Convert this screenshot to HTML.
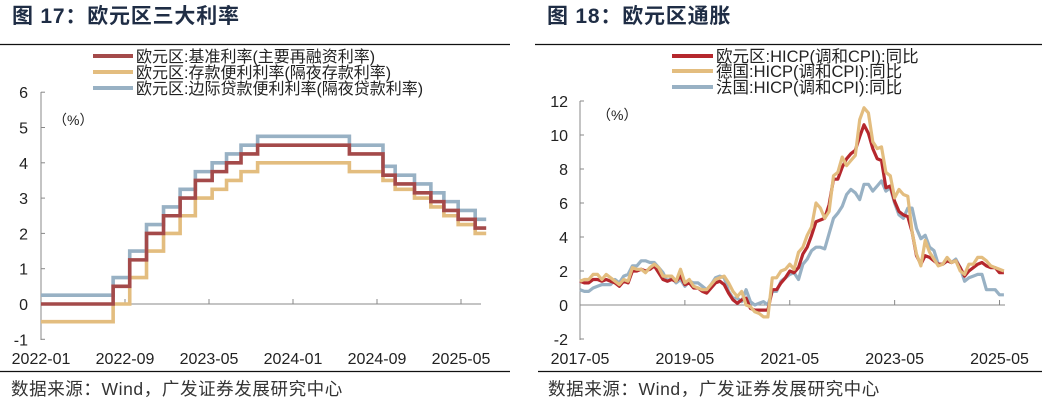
<!DOCTYPE html>
<html><head><meta charset="utf-8">
<style>
html,body{margin:0;padding:0;background:#fff;width:1042px;height:403px;overflow:hidden;}
svg{display:block;font-family:"Liberation Sans","Noto Sans CJK SC",sans-serif;}
</style></head>
<body>
<svg id="s" width="1042" height="403" viewBox="0 0 1042 403" xmlns="http://www.w3.org/2000/svg">
<rect width="1042" height="403" fill="#fff"/>
<text x="12" y="23" font-size="21" font-weight="bold" fill="#1f2d45" letter-spacing="0.8">图 17：欧元区三大利率</text>
<text x="547" y="23" font-size="21" font-weight="bold" fill="#1f2d45" letter-spacing="0.8">图 18：欧元区通胀</text>
<line x1="0" y1="44.5" x2="510" y2="44.5" stroke="#111" stroke-width="1.3"/>
<line x1="535" y1="44.5" x2="1042" y2="44.5" stroke="#111" stroke-width="1.3"/>
<line x1="0" y1="371.5" x2="510" y2="371.5" stroke="#111" stroke-width="1.3"/>
<line x1="538" y1="371.5" x2="1042" y2="371.5" stroke="#111" stroke-width="1.3"/>
<text x="11" y="395" font-size="17.5" fill="#333" letter-spacing="0.6">数据来源：Wind，广发证券发展研究中心</text>
<text x="548" y="395" font-size="17.5" fill="#333" letter-spacing="0.6">数据来源：Wind，广发证券发展研究中心</text>

<g font-size="16" fill="#222">
<line x1="93" y1="56" x2="133" y2="56" stroke="#a44a4a" stroke-width="4"/>
<text x="136" y="62">欧元区:基准利率(主要再融资利率)</text>
<line x1="93" y1="72" x2="133" y2="72" stroke="#e3bd7f" stroke-width="4"/>
<text x="136" y="78">欧元区:存款便利利率(隔夜存款利率)</text>
<line x1="93" y1="88" x2="133" y2="88" stroke="#98b1c4" stroke-width="4"/>
<text x="136" y="94">欧元区:边际贷款便利利率(隔夜贷款利率)</text>
</g>
<g font-size="16.5" fill="#222">
<line x1="672" y1="56" x2="713" y2="56" stroke="#b5272d" stroke-width="4"/>
<text x="716" y="62">欧元区:HICP(调和CPI):同比</text>
<line x1="672" y1="71" x2="713" y2="71" stroke="#e3bd7f" stroke-width="4"/>
<text x="716" y="77">德国:HICP(调和CPI):同比</text>
<line x1="672" y1="87" x2="713" y2="87" stroke="#98b1c4" stroke-width="4"/>
<text x="716" y="93">法国:HICP(调和CPI):同比</text>
</g>
<text x="53" y="125" font-size="14" fill="#222">（%）</text>
<text x="597" y="120" font-size="14" fill="#222">（%）</text>
<g id="L"></g><g id="R"></g>
</svg>
<script>
var NS="http://www.w3.org/2000/svg";
function el(p,t,a,txt){var e=document.createElementNS(NS,t);for(var k in a)e.setAttribute(k,a[k]);if(txt!==undefined)e.textContent=txt;p.appendChild(e);return e;}
var L=document.getElementById('L'),R=document.getElementById('R');
var y0=304,u=35.3,ax=41;
function ly(v){return y0-v*u;}
function lx(m){return ax+m*10.5;}
el(L,'line',{x1:ax,y1:92,x2:ax,y2:340,stroke:'#888','stroke-width':1});
for(var v=-1;v<=6;v++){el(L,'line',{x1:ax,y1:ly(v),x2:ax+4,y2:ly(v),stroke:'#888'});el(L,'text',{x:28,y:ly(v)+6,'font-size':16,'text-anchor':'end',fill:'#222'},v);}
el(L,'line',{x1:ax,y1:y0,x2:481,y2:y0,stroke:'#888'});
var lt=['2022-01','2022-09','2023-05','2024-01','2024-09','2025-05'];
lt.forEach(function(t,i){var x=lx(i*8);if(i>0)el(L,'line',{x1:x,y1:y0,x2:x,y2:y0-5,stroke:'#888'});el(L,'text',{x:x,y:364,'font-size':16,'text-anchor':'middle',fill:'#222'},t);});
var ch=[[0,0,-0.5,0.25],[6.87,0.5,0,0.75],[8.45,1.25,0.75,1.5],[10.05,2,1.5,2.25],[11.67,2.5,2,2.75],[13.25,3,2.5,3.25],[14.7,3.5,3,3.75],[16.3,3.75,3.25,4],[17.67,4,3.5,4.25],[19.05,4.25,3.75,4.5],[20.63,4.5,4,4.75],[29.37,4.25,3.75,4.5],[32.57,3.65,3.5,3.9],[33.73,3.4,3.25,3.65],[35.57,3.15,3,3.4],[37.13,2.9,2.75,3.15],[38.37,2.65,2.5,2.9],[39.73,2.4,2.25,2.65],[41.35,2.15,2,2.4],[42.4,0,0,0]];
[[3,'#98b1c4'],[2,'#e3bd7f'],[1,'#a44a4a']].forEach(function(s){
 var d='';for(var i=0;i<ch.length-1;i++){var v=ch[i][s[0]];d+=(i?'L':'M')+lx(ch[i][0])+' '+ly(v)+'L'+lx(ch[i+1][0])+' '+ly(v);}
 el(L,'path',{d:d,fill:'none',stroke:s[1],'stroke-width':3.6});
});
var ry0=305,ru=17,rx=580,dx=4.37;
function ry(v){return ry0-v*ru;}
el(R,'line',{x1:rx,y1:101,x2:rx,y2:340,stroke:'#888'});
for(var v=-2;v<=12;v+=2){el(R,'line',{x1:rx,y1:ry(v),x2:rx+4,y2:ry(v),stroke:'#888'});el(R,'text',{x:568,y:ry(v)+6,'font-size':16,'text-anchor':'end',fill:'#222'},v);}
el(R,'line',{x1:rx,y1:ry0,x2:1005,y2:ry0,stroke:'#888'});
['2017-05','2019-05','2021-05','2023-05','2025-05'].forEach(function(t,i){var x=rx+i*24*dx;if(i>0)el(R,'line',{x1:x,y1:ry0,x2:x,y2:ry0-5,stroke:'#888'});el(R,'text',{x:x,y:364,'font-size':16,'text-anchor':'middle',fill:'#222'},t);});
var EA=[1.4,1.3,1.3,1.5,1.5,1.4,1.5,1.4,1.3,1.1,1.4,1.3,2.0,2.0,2.1,2.0,2.1,2.3,1.9,1.5,1.4,1.5,1.4,1.7,1.2,1.3,1.0,1.0,0.8,0.7,1.0,1.3,1.4,1.2,0.7,0.3,0.1,0.3,0.4,-0.2,-0.3,-0.3,-0.3,-0.3,0.9,0.9,1.3,1.6,2.0,1.9,2.2,3.0,3.4,4.1,4.9,5.0,5.1,5.9,7.4,7.4,8.1,8.6,8.9,9.1,9.9,10.6,10.1,9.2,8.6,8.5,6.9,7.0,6.1,5.5,5.3,5.2,4.3,2.9,2.4,2.9,2.8,2.6,2.4,2.4,2.6,2.5,2.6,2.2,1.7,2.0,2.2,2.4,2.5,2.3,2.2,2.2,1.9,1.9];
var DE=[1.4,1.5,1.5,1.8,1.8,1.5,1.8,1.6,1.4,1.2,1.5,1.4,2.2,2.1,2.1,1.9,2.2,2.4,2.2,1.7,1.7,1.7,1.4,2.1,1.3,1.5,1.1,1.0,0.9,0.9,1.2,1.5,1.6,1.7,1.3,0.8,0.5,0.8,0.0,-0.1,-0.4,-0.5,-0.7,-0.7,1.6,1.6,2.0,2.1,2.4,2.1,3.1,3.4,4.1,4.6,6.0,5.7,5.1,5.5,7.6,7.8,8.7,8.2,8.5,8.8,10.9,11.6,11.3,9.6,9.2,9.3,7.8,7.6,6.3,6.8,6.5,6.4,4.3,3.0,2.3,3.8,3.1,2.7,2.3,2.4,2.8,2.5,2.6,2.0,1.8,2.4,2.4,2.8,2.8,2.6,2.3,2.2,2.1,2.0];
var FR=[0.9,0.8,0.8,1.0,1.1,1.2,1.2,1.2,1.5,1.3,1.7,1.8,2.3,2.3,2.6,2.6,2.5,2.5,2.2,1.9,1.4,1.6,1.3,1.5,1.1,1.4,1.3,1.3,1.1,0.9,1.2,1.6,1.7,1.6,0.8,0.4,0.4,0.2,0.9,0.2,0.0,0.1,0.2,0.0,0.8,0.8,1.4,1.6,1.8,1.9,1.5,2.4,2.7,3.2,3.4,3.4,3.3,4.2,5.1,5.4,5.8,6.5,6.8,6.6,6.2,7.1,7.1,6.7,7.0,7.3,6.7,6.9,6.0,5.3,5.1,5.7,5.7,4.5,3.9,4.1,3.4,3.2,2.4,2.4,2.6,2.5,2.7,2.2,1.4,1.6,1.7,1.8,1.8,0.9,0.9,0.9,0.6,0.6];
[[FR,'#98b1c4'],[EA,'#b5272d'],[DE,'#e3bd7f']].forEach(function(s){
 var d='';s[0].forEach(function(v,i){d+=(i?'L':'M')+(rx+i*dx).toFixed(1)+' '+ry(v).toFixed(1);});
 el(R,'path',{d:d,fill:'none',stroke:s[1],'stroke-width':3.2,'stroke-linejoin':'round'});
});
</script>
</body></html>
